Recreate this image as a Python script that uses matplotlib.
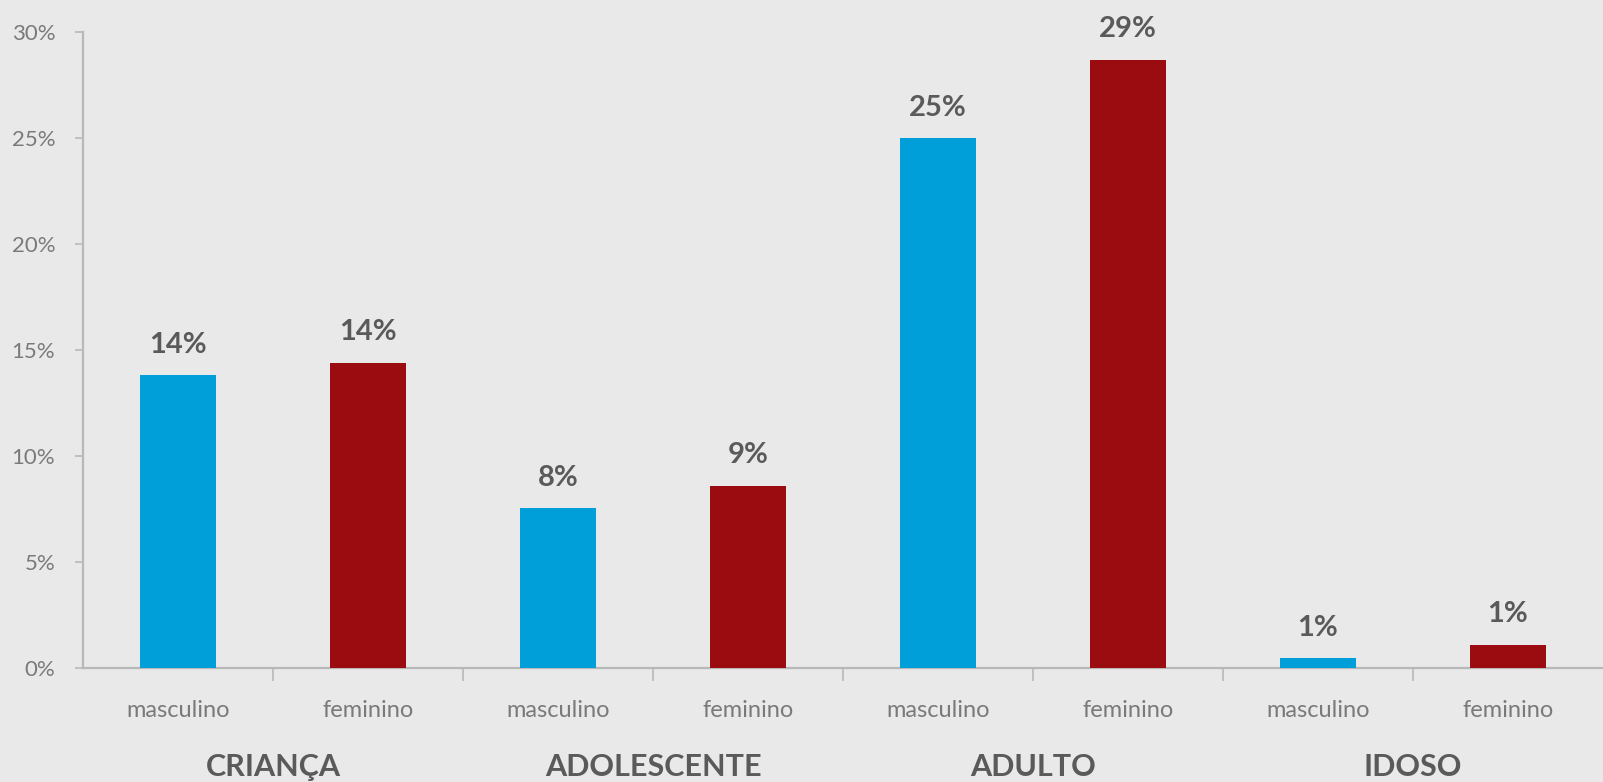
import numpy as np
import matplotlib.pyplot as plt

grupos = ['CRIANÇA', 'ADOLESCENTE', 'ADULTO', 'IDOSO']
sexos = ['masculino', 'feminino']
masculino = [13.8, 7.55, 25.0, 0.45]
feminino = [14.4, 8.6, 28.7, 1.1]
rotulos_m = ['14%', '8%', '25%', '1%']
rotulos_f = ['14%', '9%', '29%', '1%']

azul = '#009fda'
vermelho = '#9b0c11'
fundo = '#e9e9e9'
cinza_txt = '#5a5a5a'
cinza_eixo = '#b8b8b8'

plt.rcParams['font.family'] = ['Lato', 'DejaVu Sans']

fig = plt.figure(figsize=(16.03, 7.82), dpi=100, facecolor=fundo)
ax = fig.add_axes([0.0518, 0.1458, 0.9482, 0.8133])
ax.set_facecolor(fundo)

valores = []
rotulos = []
cores = []
for m, f, rm, rf in zip(masculino, feminino, rotulos_m, rotulos_f):
    valores += [m, f]
    rotulos += [rm, rf]
    cores += [azul, vermelho]
x = np.arange(len(valores))

ax.bar(x, valores, width=0.4, color=cores, zorder=3)
for xi, v, r in zip(x, valores, rotulos):
    ax.annotate(r, (xi, v), xytext=(0, 16), textcoords='offset points',
                ha='center', va='baseline', fontsize=21, fontweight='bold',
                color=cinza_txt)

ax.set_xlim(-0.5, len(valores) - 0.5)
ax.set_ylim(0, 30)
ax.set_yticks(np.arange(0, 31, 5))
ax.set_yticklabels([f'{v}%' for v in range(0, 31, 5)])
ax.set_xticks(x)
ax.set_xticklabels(sexos * len(grupos))
ax.set_xticks(np.arange(0.5, len(valores) - 1, 1), minor=True)

for s in ['top', 'right']:
    ax.spines[s].set_visible(False)
for s in ['left', 'bottom']:
    ax.spines[s].set_color(cinza_eixo)
    ax.spines[s].set_linewidth(1.6)

ax.tick_params(axis='y', length=6, width=1.2, color=cinza_eixo, pad=14,
               labelsize=16, labelcolor='#7a7a7a')
ax.tick_params(axis='x', which='major', length=0, pad=23,
               labelsize=17, labelcolor='#7a7a7a')
ax.tick_params(axis='x', which='minor', length=9, width=1.2, color=cinza_eixo)

for i, g in enumerate(grupos):
    ax.text(2 * i + 0.5, -0.156, g, transform=ax.get_xaxis_transform(),
            ha='center', va='center', fontsize=22, fontweight='bold',
            color=cinza_txt)

fig.savefig('out.png', dpi=100, facecolor=fundo)
